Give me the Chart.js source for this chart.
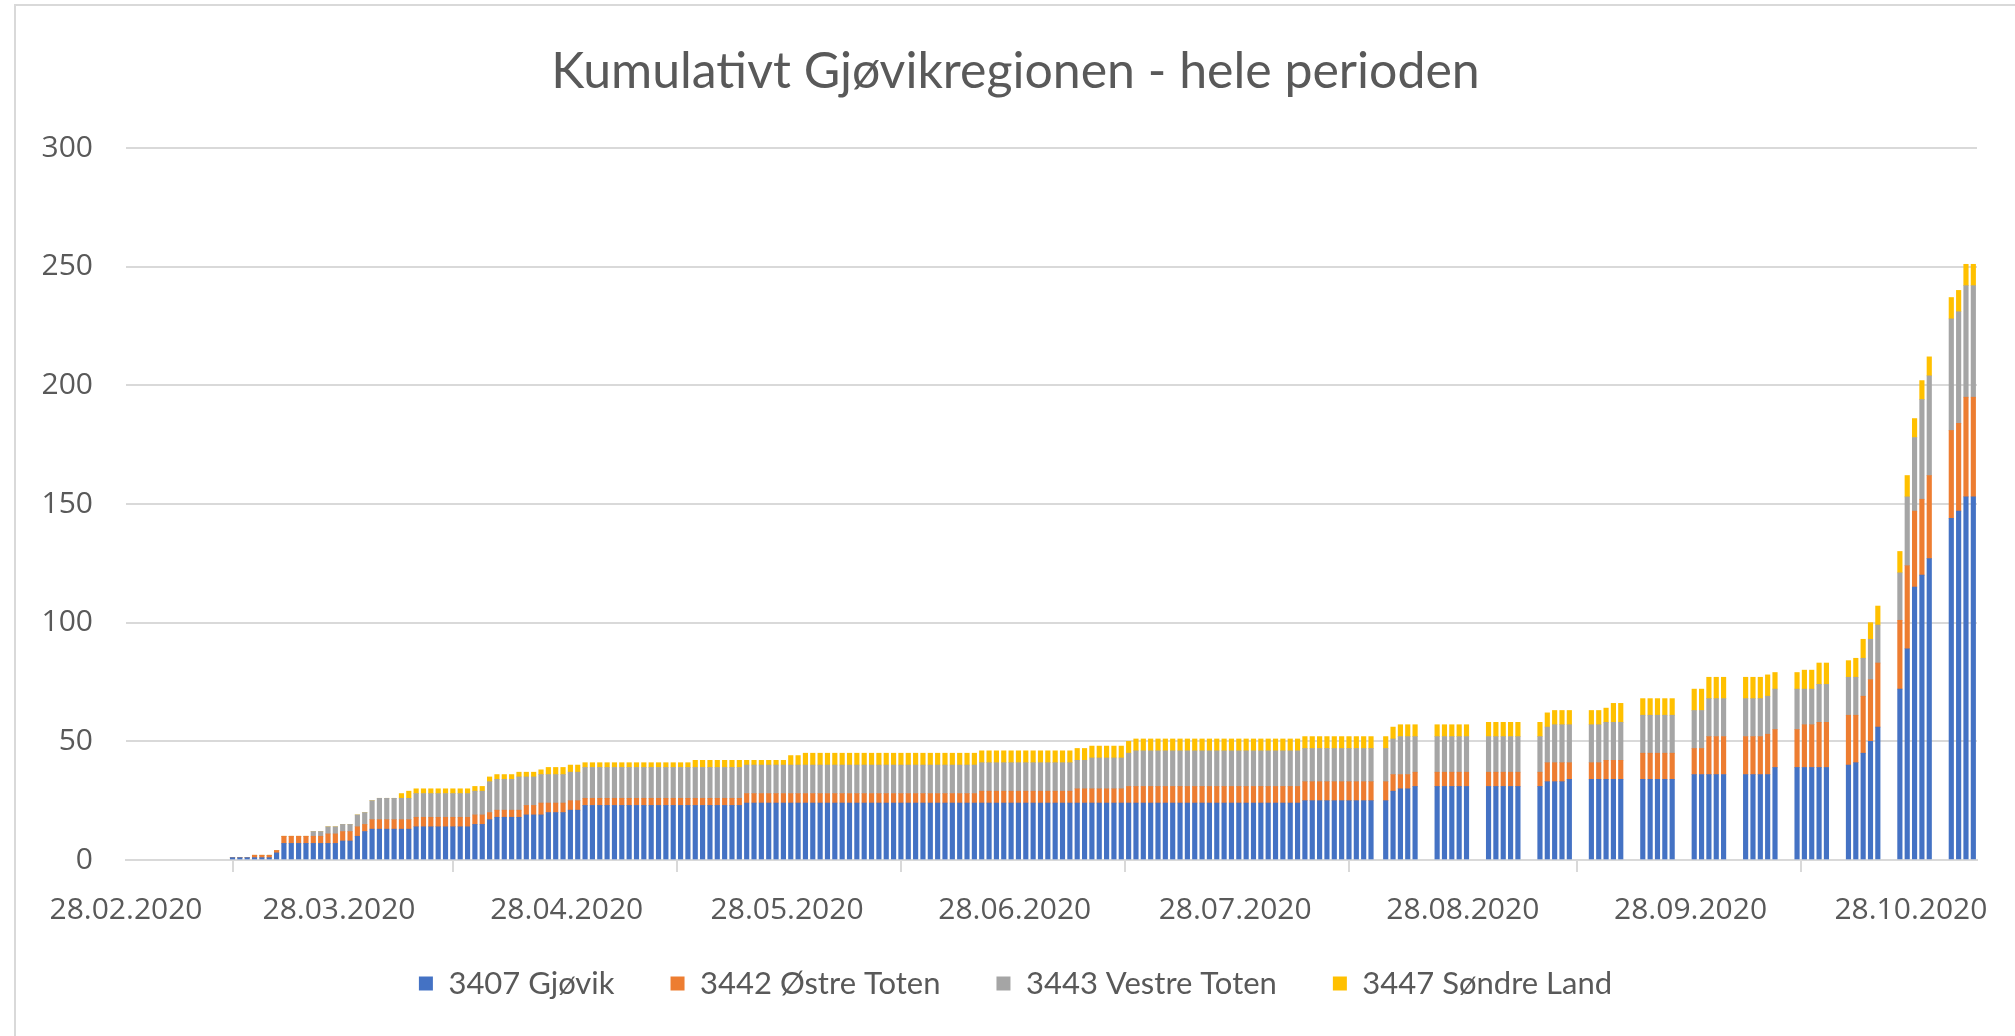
<!DOCTYPE html>
<html>
<head>
<meta charset="utf-8">
<script src="https://cdn.jsdelivr.net/npm/chart.js@4.4.1/dist/chart.umd.min.js"></script>
<style>
  html, body { margin: 0; padding: 0; background: #fff; overflow: hidden; }
  canvas { display: block; }
</style>
</head>
<body>
<canvas id="chart" width="2015" height="1036"></canvas>
<script>
(function () {
  const YEAR = 2020
  const axisStart = '28.02'
  const axisEnd = '06.11'
  const tickLabels = ['28.02.2020', '28.03.2020', '28.04.2020', '28.05.2020', '28.06.2020',
    '28.07.2020', '28.08.2020', '28.09.2020', '28.10.2020']

  // reporting days (dd.mm, 2020)
  const dates = [
    '13.03','14.03','15.03','16.03','17.03','18.03','19.03','20.03','21.03','22.03','23.03','24.03','25.03','26.03','27.03','28.03','29.03','30.03','31.03',
    '01.04','02.04','03.04','04.04','05.04','06.04','07.04','08.04','09.04','10.04','11.04','12.04','13.04','14.04','15.04','16.04','17.04','18.04','19.04','20.04','21.04','22.04','23.04','24.04','25.04','26.04','27.04','28.04','29.04','30.04',
    '01.05','02.05','03.05','04.05','05.05','06.05','07.05','08.05','09.05','10.05','11.05','12.05','13.05','14.05','15.05','16.05','17.05','18.05','19.05','20.05','21.05','22.05','23.05','24.05','25.05','26.05','27.05','28.05','29.05','30.05','31.05',
    '01.06','02.06','03.06','04.06','05.06','06.06','07.06','08.06','09.06','10.06','11.06','12.06','13.06','14.06','15.06','16.06','17.06','18.06','19.06','20.06','21.06','22.06','23.06','24.06','25.06','26.06','27.06','28.06','29.06','30.06',
    '01.07','02.07','03.07','04.07','05.07','06.07','07.07','08.07','09.07','10.07','11.07','12.07','13.07','14.07','15.07','16.07','17.07','18.07','19.07','20.07','21.07','22.07','23.07','24.07','25.07','26.07','27.07','28.07','29.07','30.07','31.07',
    '01.08','02.08','03.08','04.08','05.08','06.08','07.08','08.08','09.08','10.08','11.08','12.08','13.08','14.08','15.08','17.08','18.08','19.08','20.08','21.08','24.08','25.08','26.08','27.08','28.08','31.08',
    '01.09','02.09','03.09','04.09','07.09','08.09','09.09','10.09','11.09','14.09','15.09','16.09','17.09','18.09','21.09','22.09','23.09','24.09','25.09','28.09','29.09','30.09',
    '01.10','02.10','05.10','06.10','07.10','08.10','09.10','12.10','13.10','14.10','15.10','16.10','19.10','20.10','21.10','22.10','23.10','26.10','27.10','28.10','29.10','30.10',
    '02.11','03.11','04.11','05.11'
  ]

  const gjovik = [
    1,1,1,1,1,1,3,7,7,7,7,7,7,7,7,8,8,10,12,
    13,13,13,13,13,13,14,14,14,14,14,14,14,14,15,15,17,18,18,18,18,19,19,19,20,20,20,21,21,23,
    23,23,23,23,23,23,23,23,23,23,23,23,23,23,23,23,23,23,23,23,23,24,24,24,24,24,24,24,24,24,24,
    24,24,24,24,24,24,24,24,24,24,24,24,24,24,24,24,24,24,24,24,24,24,24,24,24,24,24,24,24,24,
    24,24,24,24,24,24,24,24,24,24,24,24,24,24,24,24,24,24,24,24,24,24,24,24,24,24,24,24,24,24,24,
    24,24,24,24,24,25,25,25,25,25,25,25,25,25,25,25,29,30,30,31,31,31,31,31,31,31,
    31,31,31,31,31,33,33,33,34,34,34,34,34,34,34,34,34,34,34,36,36,36,
    36,36,36,36,36,36,39,39,39,39,39,39,40,41,45,50,56,72,89,115,120,127,
    144,147,153,153
  ]
  const ostreToten = [
    0,0,0,1,1,1,1,3,3,3,3,3,3,4,4,4,4,4,3,
    4,4,4,4,4,4,4,4,4,4,4,4,4,4,4,4,3,3,3,3,3,4,4,5,4,4,4,4,4,3,
    3,3,3,3,3,3,3,3,3,3,3,3,3,3,3,3,3,3,3,3,3,4,4,4,4,4,4,4,4,4,4,
    4,4,4,4,4,4,4,4,4,4,4,4,4,4,4,4,4,4,4,4,4,4,5,5,5,5,5,5,5,5,
    5,5,5,5,5,6,6,6,6,6,6,6,7,7,7,7,7,7,7,7,7,7,7,7,7,7,7,7,7,7,7,
    7,7,7,7,7,8,8,8,8,8,8,8,8,8,8,8,7,6,6,6,6,6,6,6,6,6,
    6,6,6,6,6,8,8,8,7,7,7,8,8,8,11,11,11,11,11,11,11,16,
    16,16,16,16,16,17,16,16,18,18,19,19,21,20,24,26,27,29,35,32,32,35,
    37,37,42,42
  ]
  const vestreToten = [
    0,0,0,0,0,0,0,0,0,0,0,2,2,3,3,3,3,5,5,
    8,9,9,9,9,9,10,10,10,10,10,10,10,10,10,10,13,13,13,13,14,12,12,12,12,12,12,12,12,13,
    13,13,13,13,13,13,13,13,13,13,13,13,13,13,13,13,13,13,13,13,13,12,12,12,12,12,12,12,12,12,12,
    12,12,12,12,12,12,12,12,12,12,12,12,12,12,12,12,12,12,12,12,12,12,12,12,12,12,12,12,12,12,
    12,12,12,12,12,12,12,13,13,13,13,13,14,15,15,15,15,15,15,15,15,15,15,15,15,15,15,15,15,15,15,
    15,15,15,15,15,14,14,14,14,14,14,14,14,14,14,14,15,16,16,15,15,15,15,15,15,15,
    15,15,15,15,15,15,16,16,16,16,16,16,16,16,16,16,16,16,16,16,16,16,
    16,16,16,16,16,16,17,17,15,15,16,16,16,16,16,17,16,20,29,31,42,42,
    47,47,47,47
  ]
  const sondreLand = [
    0,0,0,0,0,0,0,0,0,0,0,0,0,0,0,0,0,0,0,
    0,0,0,0,2,3,2,2,2,2,2,2,2,2,2,2,2,2,2,2,2,2,2,2,3,3,3,3,3,2,
    2,2,2,2,2,2,2,2,2,2,2,2,2,2,3,3,3,3,3,3,3,2,2,2,2,2,2,4,4,5,5,
    5,5,5,5,5,5,5,5,5,5,5,5,5,5,5,5,5,5,5,5,5,5,5,5,5,5,5,5,5,5,
    5,5,5,5,5,5,5,5,5,5,5,5,5,5,5,5,5,5,5,5,5,5,5,5,5,5,5,5,5,5,5,
    5,5,5,5,5,5,5,5,5,5,5,5,5,5,5,5,5,5,5,5,5,5,5,5,5,6,
    6,6,6,6,6,6,6,6,6,6,6,6,8,8,7,7,7,7,7,9,9,9,
    9,9,9,9,9,9,7,7,8,8,9,9,7,8,8,7,8,9,9,8,8,8,
    9,9,9,9
  ]

  const seriesNames = ['3407 Gjøvik', '3442 Østre Toten', '3443 Vestre Toten', '3447 Søndre Land']
  const seriesValues = [gjovik, ostreToten, vestreToten, sondreLand]
  const seriesColors = ['#4472C4', '#ED7D31', '#A5A5A5', '#FFC000']

  function dayOf(str) {
    const parts = str.split('.')
    const t = Date.UTC(YEAR, Number(parts[1]) - 1, Number(parts[0]))
    const t0 = Date.UTC(YEAR, 1, 28)
    return Math.round((t - t0) / 86400000)
  }

  seriesValues.forEach((s, i) => {
    if (s.length !== dates.length) console.log('length mismatch', seriesNames[i], s.length, dates.length)
  })

  const tickDays = tickLabels.map(l => dayOf(l.slice(0, 5)))
  const xMin = dayOf(axisStart)
  const xMax = dayOf(axisEnd)

  const datasets = seriesNames.map((name, k) => ({
    label: name,
    data: dates.map((d, i) => ({ x: dayOf(d) + 0.5, y: seriesValues[k][i] })),
    backgroundColor: seriesColors[k],
    borderWidth: 0,
    barThickness: 4.5
  }))

  const textColor = '#595959'
  const lineColor = '#d9d9d9'

  const frame = {
    id: 'frame',
    beforeDraw(chart) {
      const g = chart.ctx
      g.save()
      g.fillStyle = '#ffffff'
      g.fillRect(0, 0, chart.width, chart.height)
      g.strokeStyle = lineColor
      g.lineWidth = 2
      g.beginPath()
      g.moveTo(15, chart.height)
      g.lineTo(15, 5)
      g.lineTo(chart.width, 5)
      g.stroke()
      g.restore()
    }
  }

  // pull the legend row up so it sits closer under the date labels
  const legendLift = {
    id: 'legendLift',
    afterLayout(chart) {
      chart.legend.top -= 18
      chart.legend.bottom -= 18
    }
  }

  new Chart(document.getElementById('chart').getContext('2d'), {
    type: 'bar',
    data: { datasets: datasets },
    plugins: [frame, legendLift],
    options: {
      responsive: false,
      animation: false,
      devicePixelRatio: 1,
      layout: { padding: { left: 16, right: 0, top: 0, bottom: 9 } },
      plugins: {
        title: {
          display: true,
          text: 'Kumulativt Gjøvikregionen - hele perioden',
          color: textColor,
          font: { family: 'Lato', size: 50, weight: 'normal' },
          padding: { top: 42, bottom: 46 }
        },
        legend: {
          position: 'bottom',
          labels: {
            color: textColor,
            font: { family: 'Lato', size: 31 },
            boxWidth: 14,
            boxHeight: 14,
            padding: 56
          }
        },
        tooltip: { enabled: false }
      },
      scales: {
        x: {
          type: 'linear',
          stacked: true,
          min: xMin,
          max: xMax,
          offset: false,
          grid: { drawOnChartArea: false, drawTicks: true, tickLength: 12, color: lineColor, lineWidth: 2 },
          border: { color: lineColor, width: 2 },
          ticks: {
            padding: 20,
            color: textColor,
            font: { family: 'Open Sans', size: 30 },
            maxRotation: 0,
            autoSkip: false,
            callback: v => {
              const i = tickDays.indexOf(v)
              return i >= 0 ? tickLabels[i] : ''
            }
          },
          afterBuildTicks: s => { s.ticks = tickDays.map(v => ({ value: v })) },
          afterFit: s => { s.height = 70 }
        },
        y: {
          stacked: true,
          min: 0,
          max: 300,
          ticks: {
            stepSize: 50,
            padding: 33,
            color: textColor,
            font: { family: 'Open Sans', size: 30 }
          },
          grid: { color: lineColor, lineWidth: 2, drawTicks: false },
          border: { display: false },
          afterFit: s => { s.width = 110 }
        },
        // empty spacer on the right so the plot ends where the original does
        yRight: {
          position: 'right',
          display: true,
          ticks: { display: false },
          grid: { display: false },
          border: { display: false },
          afterFit: s => { s.width = 38 }
        }
      }
    }
  })
}())
</script>
</body>
</html>
